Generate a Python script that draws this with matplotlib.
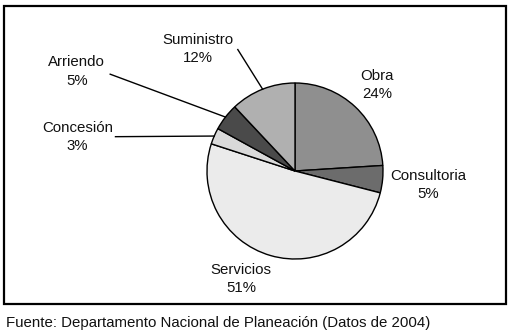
import matplotlib.pyplot as plt
from matplotlib.patches import Rectangle
import numpy as np

# Datos del grafico
categorias = ["Obra", "Consultoria", "Servicios", "Concesión", "Arriendo", "Suministro"]
porcentajes = [24, 5, 51, 3, 5, 12]
colores = ["#8f8f8f", "#6c6c6c", "#ebebeb", "#d9d9d9", "#4a4a4a", "#b0b0b0"]
fuente = "Fuente: Departamento Nacional de Planeación (Datos de 2004)"

plt.rcParams['font.family'] = ['Liberation Sans', 'DejaVu Sans']

fig = plt.figure(figsize=(5.11, 3.34), dpi=100)
ax = fig.add_axes([0, 0, 1, 1])

wedges, _ = ax.pie(porcentajes, colors=colores, startangle=90, counterclock=False,
                   radius=1, wedgeprops=dict(edgecolor="black", linewidth=1.0))

# escala: 88 px por unidad, centro en (295, 171) px
ax.set_xlim(-295 / 88, (511 - 295) / 88)
ax.set_ylim((171 - 334) / 88, 171 / 88)
ax.set_aspect("auto")
ax.set_axis_off()

# posiciones de las etiquetas (texto) y extremo de la linea guia
pos_texto = {
    "Obra": (0.93, 0.98),
    "Consultoria": (1.51, -0.16),
    "Servicios": (-0.61, -1.23),
    "Concesión": (-2.47, 0.39),
    "Arriendo": (-2.48, 1.13),
    "Suministro": (-1.10, 1.39),
}
guia = {
    "Concesión": (-2.04, 0.39),
    "Arriendo": (-2.10, 1.10),
    "Suministro": (-0.65, 1.38),
}

for w, cat, p in zip(wedges, categorias, porcentajes):
    tx, ty = pos_texto[cat]
    ax.text(tx, ty, f"{cat}\n{p}%", ha="center", va="center", fontsize=10.8,
            linespacing=1.38, color="#111111")
    if cat in guia:
        ang = np.deg2rad((w.theta1 + w.theta2) / 2)
        ax.plot([guia[cat][0], np.cos(ang)], [guia[cat][1], np.sin(ang)],
                color="black", linewidth=1.0)

# marco
fig.patches.append(Rectangle((4 / 511, 1 - 304 / 334), 502 / 511, 298 / 334,
                             transform=fig.transFigure, fill=False,
                             edgecolor="black", linewidth=1.6))

fig.text(6 / 511, 1 - 323 / 334, fuente, ha="left", va="center", fontsize=10.8,
         color="#111111")

fig.savefig("out.png", dpi=100)
